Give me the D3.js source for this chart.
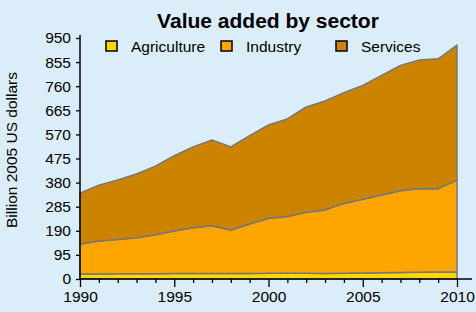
<!DOCTYPE html>
<html>
<head>
<meta charset="utf-8">
<script src="https://cdn.jsdelivr.net/npm/d3@7"></script>
<style>
  body { margin: 0; background: #daedf9; }
  svg { display: block; font-family: "Liberation Sans", Arial, sans-serif; }
</style>
</head>
<body>
<svg id="chart" width="476" height="312"></svg>
<script>
// values, billion 2005 US dollars
const years = [1990, 1991, 1992, 1993, 1994, 1995, 1996, 1997, 1998, 1999, 2000,
               2001, 2002, 2003, 2004, 2005, 2006, 2007, 2008, 2009, 2010];
const agriculture = [20, 20, 21, 21, 21, 22, 22, 22, 22, 22, 23, 23, 23, 22, 23, 24, 25, 26, 27, 28, 28];
const industry = [117, 130, 135, 142, 153, 167, 180, 188, 171, 195, 216, 223, 240, 250, 275, 290, 306, 322, 330, 328, 362];
const services = [201, 220, 234, 251, 271, 297, 319, 338, 328, 348, 368, 385, 415, 430, 436, 449, 472, 494, 506, 512, 532];
const sectors = ["Agriculture", "Industry", "Services"];
const colors = ["#ffd700", "#ffa500", "#cc8400"];
const yTicks = [0, 95, 190, 285, 380, 475, 570, 665, 760, 855, 950];

const rows = years.map((y, i) => ({
  year: y, Agriculture: agriculture[i], Industry: industry[i], Services: services[i]
}));

const svg = d3.select("#chart");
const x = d3.scaleLinear().domain([1990, 2010]).range([80, 457]);
const y = d3.scaleLinear().domain([0, 950]).range([279, 38]);

const stack = d3.stack().keys(sectors)(rows);
const area = d3.area()
  .x(d => x(d.data.year))
  .y0(d => y(d[0]))
  .y1(d => y(d[1]));

svg.selectAll("path.layer")
  .data(stack)
  .join("path")
  .attr("class", "layer")
  .attr("d", area)
  .attr("fill", (d, i) => colors[i])
  .attr("stroke", "#777")
  .attr("stroke-width", 1.5)
  .attr("stroke-linejoin", "round");

// y axis
const yAxis = svg.append("g")
  .attr("transform", "translate(80,0)")
  .call(d3.axisLeft(y).tickValues(yTicks).tickSize(4).tickPadding(5));
yAxis.select(".domain").remove();
yAxis.selectAll("text").attr("font-size", 15.5).attr("fill", "#000").attr("font-family", "Liberation Sans, Arial, sans-serif");
yAxis.selectAll("line").attr("stroke", "#000").attr("stroke-width", 1.3);
svg.append("line").attr("x1", 80).attr("x2", 80).attr("y1", 279).attr("y2", 35)
  .attr("stroke", "#000").attr("stroke-width", 1.5);

// x axis
const xAxis = svg.append("g")
  .attr("transform", "translate(0,279)")
  .call(d3.axisBottom(x).tickValues(years)
    .tickFormat(d => d % 5 === 0 ? d : "").tickSize(4).tickPadding(8));
xAxis.select(".domain").remove();
xAxis.selectAll(".tick line")
  .attr("y2", d => d % 5 === 0 ? 8 : 4)
  .attr("stroke", "#000").attr("stroke-width", 1.3);
xAxis.selectAll("text").attr("font-size", 15.5).attr("fill", "#000").attr("font-family", "Liberation Sans, Arial, sans-serif");
svg.append("line").attr("x1", 80).attr("x2", 472).attr("y1", 279).attr("y2", 279)
  .attr("stroke", "#000").attr("stroke-width", 1.5);

// titles
svg.append("text").attr("x", 268).attr("y", 28).attr("text-anchor", "middle")
  .attr("font-size", 21).attr("font-weight", "bold").text("Value added by sector");
svg.append("text").attr("transform", "translate(17,150) rotate(-90)")
  .attr("text-anchor", "middle").attr("font-size", 15.5).text("Billion 2005 US dollars");

// legend
const legendX = [106, 221, 336];
const legend = svg.selectAll("g.leg").data(sectors).join("g")
  .attr("class", "leg")
  .attr("transform", (d, i) => `translate(${legendX[i]},41)`);
legend.append("rect").attr("width", 11).attr("height", 10)
  .attr("fill", (d, i) => colors[i]).attr("stroke", "#000").attr("stroke-width", 1.5);
legend.append("text").attr("x", 25).attr("y", 11).attr("font-size", 15.5).text(d => d);
</script>
</body>
</html>
